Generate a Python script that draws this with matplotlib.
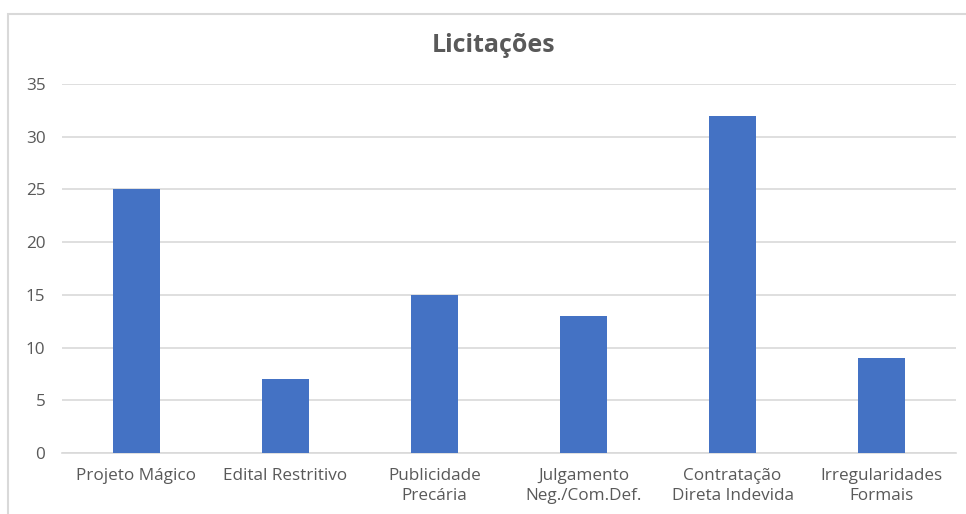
import matplotlib.pyplot as plt
from matplotlib.patches import Rectangle

categorias = ['Projeto Mágico', 'Edital Restritivo', 'Publicidade\nPrecária',
              'Julgamento\nNeg./Com.Def.', 'Contratação\nDireta Indevida',
              'Irregularidades\nFormais']
valores = [25, 7, 15, 13, 32, 9]
y_ticks = [0, 5, 10, 15, 20, 25, 30, 35]

plt.rcParams['font.family'] = ['Open Sans', 'DejaVu Sans']
cinza = '#595959'

fig = plt.figure(figsize=(9.66, 5.14), dpi=100)
ax = fig.add_axes([62/966, 61/514, 894/966, 369/514])

x = range(len(categorias))
ax.bar(x, valores, width=0.31, color='#4472C4', zorder=3)

ax.set_xlim(-0.5, len(categorias) - 0.5)
ax.set_ylim(0, 35)
ax.set_yticks(y_ticks)
ax.set_xticks(list(x))
ax.set_xticklabels(categorias, fontsize=12.3, color=cinza, linespacing=1.32)
ax.tick_params(axis='y', labelsize=12.3, labelcolor=cinza, length=0, pad=12)
ax.tick_params(axis='x', length=0, pad=11)
ax.grid(axis='y', color='#D9D9D9', linewidth=1.2, zorder=0)
for s in ['top', 'right', 'left']:
    ax.spines[s].set_visible(False)
ax.spines['bottom'].set_color('#D9D9D9')
ax.spines['bottom'].set_linewidth(1.2)

fig.text(494/966, 1 - 46/514, 'Licitações', ha='center', va='center',
         fontsize=18, fontweight='bold', color=cinza)

fig.patches.append(Rectangle((8/966, -0.1), 1.2, 1.1 - 14/514,
                             transform=fig.transFigure, fill=False,
                             edgecolor='#D9D9D9', linewidth=1.5))

fig.savefig('out.png', dpi=100)
